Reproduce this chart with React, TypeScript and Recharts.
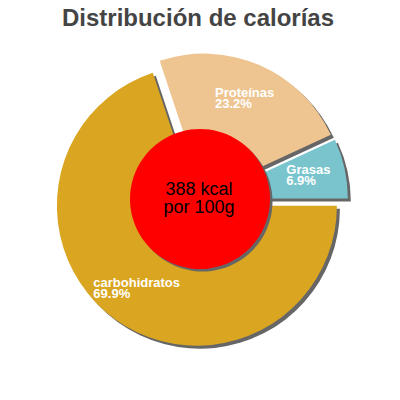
import React from "react";
import { PieChart, Pie, Cell, Sector } from "recharts";

// datos
const CATEGORIES = ["Grasas", "Proteínas", "carbohidratos"];
const PERCENTS = [6.9, 23.2, 69.9];
const COLORS = ["#7AC5CD", "#EEC591", "#DAA520"];
const KCAL_LINES = ["388 kcal", "por 100g"];
const TITLE = "Distribución de calorías";

const FONT = "'Liberation Sans', Arial, Helvetica, sans-serif";
const RAD = Math.PI / 180;
const EXPLODE = 7;
const SHADOW = "#666666";

const data = CATEGORIES.map((name, i) => ({ name, value: PERCENTS[i] }));
const centerData = [{ name: "kcal", value: 1 }];

let ctx: CanvasRenderingContext2D | null = null;
function textWidth(s: string, font: string) {
    if (!ctx) ctx = document.createElement("canvas").getContext("2d");
    if (!ctx) return s.length * 7;
    ctx.font = font;
    return ctx.measureText(s).width;
}

// porción desplazada con sombra
const ExplodedSlice = (props: any) => {
    const { cx, cy, midAngle, fill } = props;
    const dx = EXPLODE * Math.cos(-midAngle * RAD);
    const dy = EXPLODE * Math.sin(-midAngle * RAD);
    return (
        <g>
            <Sector {...props} cx={cx + dx + 3} cy={cy + dy + 3} fill={SHADOW} stroke="none" />
            <Sector {...props} cx={cx + dx} cy={cy + dy} fill={fill} stroke="none" />
        </g>
    );
};

const CircleSlice = (props: any) => (
    <g>
        <Sector {...props} cx={props.cx + 2.5} cy={props.cy + 2.5} fill={SHADOW} stroke="none" />
        <Sector {...props} fill="#FF0000" stroke="none" />
    </g>
);

const renderLabel = (props: any) => {
    const { cx, cy, midAngle, outerRadius, name, percent } = props;
    const r = outerRadius * 0.735 + EXPLODE;
    const px = cx + r * Math.cos(-midAngle * RAD);
    const py = cy + r * Math.sin(-midAngle * RAD);
    const pct = `${(percent * 100).toFixed(1)}%`;
    const font = `bold 13px ${FONT}`;
    const w = Math.max(textWidth(name, font), textWidth(pct, font));
    const x = px - w / 2;
    return (
        <text x={x} y={py - 2} fill="#FFFFFF" fontSize={13} fontWeight="bold" fontFamily={FONT} textAnchor="start">
            <tspan x={x} y={py - 2}>{name}</tspan>
            <tspan x={x} y={py + 9}>{pct}</tspan>
        </text>
    );
};

const renderCenter = (props: any) => {
    const { cx, cy } = props;
    return (
        <text x={cx} y={cy} fill="#000000" fontSize={18} fontFamily={FONT} textAnchor="middle">
            <tspan x={cx - 1} y={cy - 4}>{KCAL_LINES[0]}</tspan>
            <tspan x={cx - 1} y={cy + 14}>{KCAL_LINES[1]}</tspan>
        </text>
    );
};

export default function App() {
    return (
        <div style={{ position: "absolute", left: 0, top: 0, width: 400, height: 400, background: "#fff" }}>
            <div
                style={{
                    position: "absolute", left: 0, top: 0, width: 396, textAlign: "center",
                    fontFamily: FONT, fontWeight: "bold", fontSize: 24, color: "#444444",
                    lineHeight: "32px", marginTop: 2
                }}
            >
                {TITLE}
            </div>
            <PieChart width={400} height={400} margin={{ top: 0, right: 0, bottom: 0, left: 0 }}>
                <Pie
                    data={data}
                    dataKey="value"
                    nameKey="name"
                    cx={201}
                    cy={200}
                    outerRadius={140}
                    innerRadius={0}
                    startAngle={0}
                    endAngle={360}
                    stroke="none"
                    shape={ExplodedSlice}
                    label={renderLabel}
                    labelLine={false}
                    isAnimationActive={false}
                >
                    {data.map((d, i) => (
                        <Cell key={d.name} fill={COLORS[i]} />
                    ))}
                </Pie>
                <Pie
                    data={centerData}
                    dataKey="value"
                    cx={200}
                    cy={199}
                    outerRadius={70}
                    startAngle={0}
                    endAngle={360}
                    stroke="none"
                    fill="#FF0000"
                    shape={CircleSlice}
                    label={renderCenter}
                    labelLine={false}
                    isAnimationActive={false}
                />
            </PieChart>
        </div>
    );
}
